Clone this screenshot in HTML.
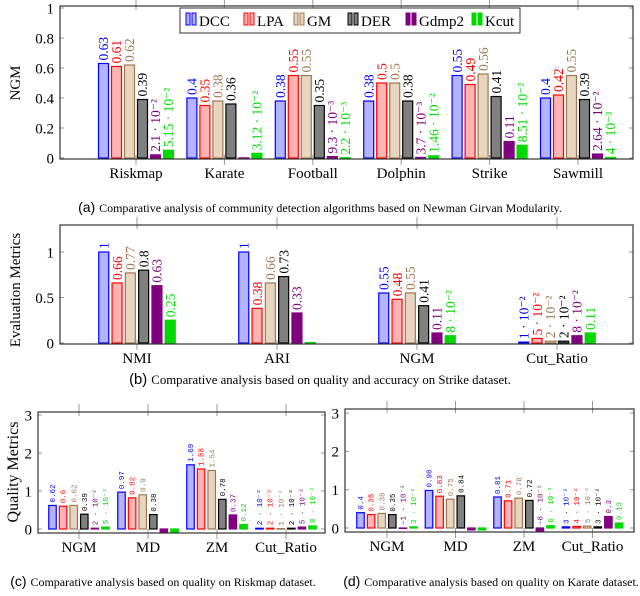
<!DOCTYPE html>
<html><head><meta charset="utf-8"><style>
body{margin:0;background:#fff;width:640px;height:596px;overflow:hidden}
svg{position:absolute;left:0;top:0}
</style></head><body>
<svg id="s" width="640" height="596" font-family="Liberation Serif, serif"></svg>
<script>
const series=['DCC','LPA','GM','DER','Gdmp2','Kcut'];
const fills=['#b3b3ff','#ffb3b3','#e8d5c0','#808080','#800080','#00d800'];
const strokes=['#0000ff','#ff0000','#a07850','#000000','#800080','#00d800'];
const tcol=['#0000ff','#ff0000','#a07850','#000000','#800080','#00dd00'];

const catsA=['Riskmap','Karate','Football','Dolphin','Strike','Sawmill'];
const valsA=[[0.63,0.4,0.38,0.38,0.55,0.4],[0.61,0.35,0.55,0.5,0.49,0.42],[0.62,0.38,0.55,0.5,0.56,0.55],[0.39,0.36,0.35,0.38,0.41,0.39],[0.021,0.001,0.0093,0.0037,0.11,0.0264],[0.0515,0.0312,0.0022,0.0146,0.0851,0.004]];
const labsA=[['0.63','0.4','0.38','0.38','0.55','0.4'],['0.61','0.35','0.55','0.5','0.49','0.42'],['0.62','0.38','0.55','0.5','0.56','0.55'],['0.39','0.36','0.35','0.38','0.41','0.39'],['2.1 · 10⁻²','','9.3 · 10⁻³','3.7 · 10⁻³','0.11','2.64 · 10⁻²'],['5.15 · 10⁻²','3.12 · 10⁻²','2.2 · 10⁻³','1.46 · 10⁻²','8.51 · 10⁻²','4 · 10⁻³']];
const ticksA=[0,0.2,0.4,0.6,0.8,1];

const catsB=['NMI','ARI','NGM','Cut_Ratio'];
const valsB=[[1,1,0.55,0.01],[0.66,0.38,0.48,0.05],[0.77,0.66,0.55,0.02],[0.8,0.73,0.41,0.02],[0.63,0.33,0.11,0.08],[0.25,0.005,0.08,0.11]];
const labsB=[['1','1','0.55','1 · 10⁻²'],['0.66','0.38','0.48','5 · 10⁻²'],['0.77','0.66','0.55','2 · 10⁻²'],['0.8','0.73','0.41','2 · 10⁻²'],['0.63','0.33','0.11','8 · 10⁻²'],['0.25','','8 · 10⁻²','0.11']];
const ticksB=[0,0.5,1];

const catsC=['NGM','MD','ZM','Cut_Ratio'];
const valsC=[[0.62,0.97,1.69,0.02],[0.6,0.82,1.58,0.02],[0.62,0.9,1.54,0.01],[0.39,0.38,0.78,0.02],[0.02,-0.1,0.37,0.05],[0.05,-0.1,0.12,0.08]];
const labsC=[['0.62','0.97','1.69','2 · 10⁻²'],['0.6','0.82','1.58','2 · 10⁻²'],['0.62','0.9','1.54','1 · 10⁻²'],['0.39','0.38','0.78','2 · 10⁻²'],['2 · 10⁻²','','0.37','5 · 10⁻²'],['5 · 10⁻²','','0.12','8 · 10⁻²']];
const ticksC=[0,1,2,3];

const catsD=['NGM','MD','ZM','Cut_Ratio'];
const valsD=[[0.4,0.98,0.81,0.03],[0.35,0.83,0.71,0.04],[0.38,0.75,0.78,0.05],[0.35,0.84,0.72,0.03],[-0.01,-0.05,-0.08,0.3],[0.03,-0.05,0.06,0.13]];
const labsD=[['0.4','0.98','0.81','3 · 10⁻²'],['0.35','0.83','0.71','4 · 10⁻²'],['0.38','0.75','0.78','5 · 10⁻²'],['0.35','0.84','0.72','3 · 10⁻²'],['−1 · 10⁻²','','−8 · 10⁻²','0.3'],['3 · 10⁻²','','6 · 10⁻²','0.13']];

const NS='http://www.w3.org/2000/svg';
const S=document.getElementById('s');
function mk(tag,at,parent,txt){const e=document.createElementNS(NS,tag);for(const k in at)e.setAttribute(k,at[k]);if(txt!==undefined)e.textContent=txt;(parent||S).appendChild(e);return e;}

function chart(c){
  const g=mk('g',{});
  
  
  const y=v=>c.y0-(v-0)*c.ppu;
  c.ticks.forEach(t=>{
    mk('line',{x1:c.x0,x2:c.x0+4,y1:y(t),y2:y(t),stroke:'#999'},g);
    mk('line',{x1:c.x1-4,x2:c.x1,y1:y(t),y2:y(t),stroke:'#999'},g);
    const tx=mk('text',{x:c.x0-6,y:y(t)+c.fs*0.35,'text-anchor':'end','font-size':c.fs},g,String(t));
    
    
  });
  const cx=i=>c.c0+i*c.step;
  c.cats.forEach((k,i)=>{
    mk('line',{x1:cx(i),x2:cx(i),y1:c.top-8,y2:c.top+4,stroke:'#999'},g);
    mk('line',{x1:cx(i),x2:cx(i),y1:c.bot-4,y2:c.bot+6,stroke:'#999'},g);
    const t=mk('text',{x:cx(i),y:c.bot+c.fs+4,'text-anchor':'middle','font-size':c.fs},g,k);
    
    
  });
  c.vals.forEach((arr,s)=>{
    arr.forEach((v,i)=>{
      const bx=cx(i)+(s-2.5)*c.pitch-c.bw/2;
      const yt=Math.min(y(v),c.y0), h=Math.abs(y(v)-c.y0);
      const r=mk('rect',{x:bx,y:yt,width:c.bw,height:Math.max(h,0.5),fill:fills[s],stroke:strokes[s],'stroke-width':1.2},g);
      
      
      const lab=c.labs[s][i];
      if(lab){
        const lx=bx+c.bw/2+c.lfs*0.35, ly=Math.min(y(v),c.y0)-3;
        const t=mk('text',{x:lx,y:ly,transform:`rotate(-90 ${lx} ${ly})`,'font-size':c.lfs,fill:tcol[s],'font-family':c.mono?'Liberation Mono, monospace':'Liberation Serif, serif'},g,lab);
        
        
      }
    });
  });
  mk('rect',{x:c.x0,y:c.top,width:c.x1-c.x0,height:c.bot-c.top,fill:'none',stroke:'#333','stroke-width':1.2},g);
  if(c.ylab){const yl=mk('text',{x:c.ylx,y:c.yly,transform:`rotate(-90 ${c.ylx} ${c.yly})`,'text-anchor':'middle','font-size':c.yfs||c.fs},g,c.ylab);
    }
}
chart({name:'chart-a-ngm',cats:catsA,vals:valsA,labs:labsA,ticks:ticksA,x0:60,x1:633,top:6,bot:159,y0:158,ppu:150,c0:136,step:88.4,bw:10,pitch:13,fs:15,lfs:13.5,ylab:'NGM',ylx:20,yly:83});
chart({name:'chart-b-strike',cats:catsB,vals:valsB,labs:labsB,ticks:ticksB,x0:60,x1:633,top:225,bot:344,y0:343,ppu:91,c0:137,step:140,bw:10,pitch:13.3,fs:15,lfs:13.5,ylab:'Evaluation Metrics',ylx:20,yly:290});
chart({name:'chart-c-riskmap',cats:catsC,vals:valsC,labs:labsC,ticks:ticksC,x0:38,x1:325,top:412,bot:533,y0:529,ppu:38,c0:79,step:69,bw:7.5,pitch:10.6,fs:15,lfs:7.5,mono:true,ylab:'Quality Metrics',ylx:18,yly:472,yfs:16});
chart({name:'chart-d-karate',cats:catsD,vals:valsD,labs:labsD,ticks:ticksC,x0:345,x1:634,top:409,bot:532,y0:528,ppu:38.3,c0:387,step:68.5,bw:7.5,pitch:10.6,fs:15,lfs:7.5,mono:true});

const lg=mk('g',{});


mk('rect',{x:180,y:8,width:340,height:25,fill:'#fff',stroke:'#333'},lg);
const lx=[186,244,294,348,406,472];
series.forEach((n,i)=>{
  const e=mk('g',{},lg);
  
  
  mk('rect',{x:lx[i],y:13,width:4,height:12,fill:fills[i],stroke:strokes[i]},e);
  mk('rect',{x:lx[i]+6,y:13,width:4,height:12,fill:fills[i],stroke:strokes[i]},e);
  mk('text',{x:lx[i]+13,y:26,'font-size':15},e,n);
});
const caps=[[320,212,'(a)','Comparative analysis of community detection algorithms based on Newman Girvan Modularity.',12],[320,384,'(b)','Comparative analysis based on quality and accuracy on Strike dataset.',12.8],[163,586,'(c)','Comparative analysis based on quality on Riskmap dataset.',12],[491,586,'(d)','Comparative analysis based on quality on Karate dataset.',12]];
caps.forEach(c=>{
  const t=mk('text',{x:c[0],y:c[1],'text-anchor':'middle','font-size':c[4]});
  
  
  mk('tspan',{'font-family':'Liberation Sans, sans-serif','font-size':c[4]+2},t,c[2]+' ');
  mk('tspan',{},t,c[3]);
});
</script>
</body></html>
